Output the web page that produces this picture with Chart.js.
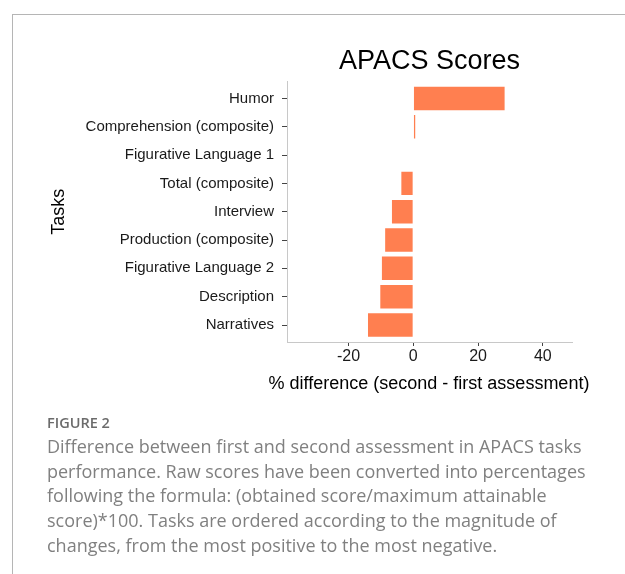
<!DOCTYPE html>
<html>
<head>
<meta charset="utf-8">
<script src="https://cdn.jsdelivr.net/npm/chart.js@4.4.0/dist/chart.umd.min.js"></script>
<style>
body{margin:0;background:#fff;width:625px;height:574px;overflow:hidden;position:relative;font-family:"Open Sans",sans-serif;}
#frame{position:absolute;left:12px;top:14px;width:620px;height:570px;border-top:1.5px solid #b5b5b5;border-left:1.5px solid #b5b5b5;}
#wrap{position:absolute;left:0;top:0;width:625px;height:574px;}
#xtitle{position:absolute;left:229px;width:400px;top:371px;text-align:center;font-family:'Liberation Sans',Arial,sans-serif;font-size:18px;line-height:24px;color:#000;}
#fig{position:absolute;left:47px;top:413px;font-size:14.5px;font-weight:600;color:#6b6b6b;}
#cap{position:absolute;left:47px;top:434px;width:570px;font-size:18px;line-height:24.7px;color:#808080;}
</style>
</head>
<body>
<div id="frame"></div>
<div id="wrap"><canvas id="apacs" width="625" height="574"></canvas></div>
<div id="xtitle">% difference (second - first assessment)</div>
<div id="fig">FIGURE 2</div>
<div id="cap">Difference between first and second assessment in APACS tasks<br>performance. Raw scores have been converted into percentages<br>following the formula: (obtained score/maximum attainable<br>score)*100. Tasks are ordered according to the magnitude of<br>changes, from the most positive to the most negative.</div>
<script>
let tasks = ["Humor","Comprehension (composite)","Figurative Language 1","Total (composite)","Interview","Production (composite)","Figurative Language 2","Description","Narratives"];
let diffs = [28.5, 0.9, 0, -4.0, -6.9, -9.0, -10.0, -10.5, -14.3];
let xTicks = [-20, 0, 20, 40];

Chart.defaults.font.family = "'Liberation Sans', Arial, sans-serif";
Chart.defaults.color = "#1a1a1a";

// one point per task, y = position of the task on the axis
let points = diffs.map((v,i)=>({x:v,y:i}));

let chart = new Chart(document.getElementById("apacs"),{
type:'bar',
data:{
datasets:[{
data:points,
backgroundColor:'#FF7F50',
borderColor:'rgba(255,255,255,0.55)',
borderWidth:1,
barPercentage:0.9,
categoryPercentage:1
}]
},
options:{
indexAxis:'y',
responsive:false,
animation:false,
layout:{padding:{left:0,right:53,top:0,bottom:0}},
plugins:{
legend:{display:false},
tooltip:{enabled:false},
title:{display:true,fullSize:false,text:'APACS Scores',color:'#000',font:{size:27,weight:'normal'},padding:{top:45,bottom:4}}
},
scales:{
x:{
type:'linear',
min:-39,max:49,
afterFit:function(s){ s.height = 232; },
afterBuildTicks:function(s){ s.ticks = xTicks.map(v=>({value:v})); },
ticks:{font:{size:16},color:'#1a1a1a',padding:1},
grid:{drawOnChartArea:false,tickLength:4,tickColor:'#444'},
border:{color:'#c8c8c8',width:1}
},
y:{
type:'linear',
min:-0.6,max:8.6,
reverse:true,
offset:false,
afterFit:function(s){ s.width = 287; },
afterBuildTicks:function(s){ s.ticks = tasks.map((t,i)=>({value:i})); },
ticks:{font:{size:15},color:'#1a1a1a',padding:8,callback:function(v){ return tasks[v]; }},
grid:{drawOnChartArea:false,offset:false,tickLength:5,tickColor:'#444'},
border:{color:'#c8c8c8',width:1},
title:{display:true,text:'Tasks',color:'#000',font:{size:18},padding:{top:48,bottom:0}}
}
}
}
});
</script>
</body>
</html>
